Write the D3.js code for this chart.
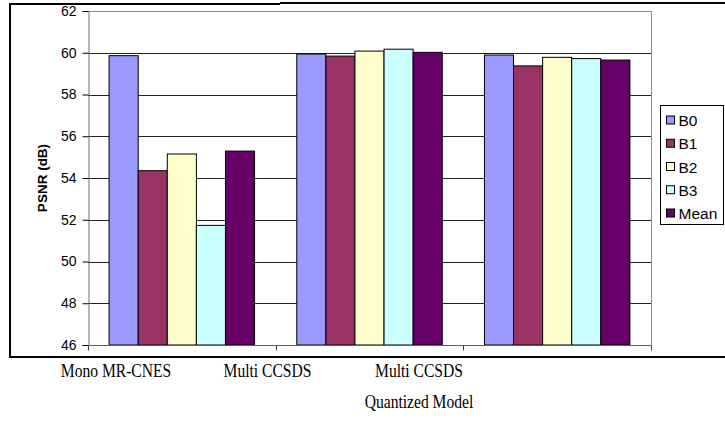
<!DOCTYPE html>
<html>
<head>
<meta charset="utf-8">
<script src="https://cdn.jsdelivr.net/npm/d3@7"></script>
<style>
  html, body { margin: 0; padding: 0; background: #fff; }
  svg { display: block; }
</style>
</head>
<body>
<svg id="chart" width="725" height="423"></svg>
<script>
// Compression methods (groups) and bands (series)
const categories = ["Mono MR-CNES", "Multi CCSDS", "Multi CCSDS Quantized Model"];
const captionLines = [["Mono MR-CNES"], ["Multi CCSDS"], ["Multi CCSDS", "Quantized Model"]];
const seriesNames = ["B0", "B1", "B2", "B3", "Mean"];
const seriesColors = ["#9999FF", "#993366", "#FFFFCC", "#CCFFFF", "#660066"];

// PSNR (dB) per band, one array per series, ordered like categories
const B0 = [59.86, 59.94, 59.89];
const B1 = [54.35, 59.84, 59.37];
const B2 = [55.15, 60.08, 59.78];
const B3 = [51.73, 60.17, 59.72];
const Mean = [55.29, 60.02, 59.65];
const seriesValues = [B0, B1, B2, B3, Mean];

const yTicks = [46, 48, 50, 52, 54, 56, 58, 60, 62];

const svg = d3.select("#chart");

// Plot area
const plot = { left: 88, right: 651, top: 11, bottom: 345 };

const x0 = d3.scaleBand()
  .domain(categories)
  .range([plot.left, plot.right])
  .paddingInner(0)
  .paddingOuter(0);

// Inner bands: 5 touching bars with a gap on either side of the group
const gapRatio = 1.45;
const x1 = d3.scaleBand()
  .domain(seriesNames)
  .range([0, x0.bandwidth()])
  .paddingInner(0)
  .paddingOuter(gapRatio / 2);

const y = d3.scaleLinear().domain([46, 62]).range([plot.bottom, plot.top]);

// Outer frame
svg.append("path")
  .attr("d", "M10,4 H280 M280,3 H725 M10,3 V357 H725")
  .attr("fill", "none")
  .attr("stroke", "#000")
  .attr("stroke-width", 2);

// Gridlines
svg.append("g")
  .selectAll("line")
  .data(yTicks.filter(t => t !== 46 && t !== 62))
  .join("line")
  .attr("x1", plot.left)
  .attr("x2", plot.right)
  .attr("y1", d => Math.round(y(d)) + 0.5)
  .attr("y2", d => Math.round(y(d)) + 0.5)
  .attr("stroke", "#222")
  .attr("stroke-width", 1);

// Plot border (top and right)
svg.append("path")
  .attr("d", `M${plot.left},${plot.top + 0.5} H${plot.right + 0.5} V${plot.bottom}`)
  .attr("fill", "none")
  .attr("stroke", "#8c8c8c")
  .attr("stroke-width", 1);

// Bars
const groups = svg.append("g")
  .selectAll("g")
  .data(categories)
  .join("g")
  .attr("transform", d => `translate(${x0(d)},0)`);

groups.selectAll("rect")
  .data((c, ci) => seriesNames.map((s, si) => ({ s, si, v: seriesValues[si][ci] })))
  .join("rect")
  .attr("x", d => x1(d.s))
  .attr("width", x1.bandwidth())
  .attr("y", d => y(d.v))
  .attr("height", d => y(46) - y(d.v))
  .attr("fill", d => seriesColors[d.si])
  .attr("stroke", "#000")
  .attr("stroke-width", 1);

// Y axis
const yAxis = d3.axisLeft(y).tickValues(yTicks).tickSize(6).tickPadding(6);
const yg = svg.append("g")
  .attr("transform", `translate(${plot.left + 0.5},0)`)
  .call(yAxis);
yg.select(".domain").attr("stroke", "#707070");
yg.selectAll(".tick line").attr("stroke", "#000");
yg.selectAll(".tick text")
  .attr("font-family", "Liberation Sans, Arial, sans-serif")
  .attr("font-size", 14)
  .attr("fill", "#000");

// X axis (group boundary ticks, no labels)
const xg = svg.append("g")
  .attr("transform", `translate(0,${plot.bottom + 0.5})`);
xg.append("line")
  .attr("x1", plot.left).attr("x2", plot.right + 0.5)
  .attr("stroke", "#606060");
xg.selectAll("line.tk")
  .data(categories.map(c => x0(c)).concat([plot.right]))
  .join("line")
  .attr("class", "tk")
  .attr("x1", d => Math.round(d) + 0.5)
  .attr("x2", d => Math.round(d) + 0.5)
  .attr("y1", 0).attr("y2", 5)
  .attr("stroke", "#404040");

// Y axis title
svg.append("text")
  .attr("transform", `translate(47,${(plot.top + plot.bottom) / 2}) rotate(-90)`)
  .attr("text-anchor", "middle")
  .attr("font-family", "Liberation Sans, Arial, sans-serif")
  .attr("font-weight", "bold")
  .attr("font-size", 13.5)
  .text("PSNR (dB)");

// Legend
const legend = svg.append("g").attr("transform", "translate(660.5,105.5)");
legend.append("rect")
  .attr("width", 63).attr("height", 119)
  .attr("fill", "#fff").attr("stroke", "#000").attr("stroke-width", 1);
const ly = d3.scalePoint().domain(seriesNames).range([15, 108]);
const li = legend.selectAll("g.item")
  .data(seriesNames)
  .join("g")
  .attr("class", "item")
  .attr("transform", d => `translate(0,${ly(d)})`);
li.append("rect")
  .attr("x", 6).attr("y", -4.5)
  .attr("width", 8).attr("height", 8)
  .attr("fill", (d, i) => seriesColors[i])
  .attr("stroke", "#000").attr("stroke-width", 1);
li.append("text")
  .attr("x", 18).attr("y", 5.5)
  .attr("font-family", "Liberation Sans, Arial, sans-serif")
  .attr("font-size", 15.5)
  .text(d => d);

// Method captions below the frame
const cx = d3.scalePoint().domain(categories).range([116, 419]);
const caps = svg.append("g")
  .selectAll("g")
  .data(categories)
  .join("g")
  .attr("transform", d => `translate(${cx(d)},377) scale(0.8,1)`);
caps.selectAll("text")
  .data((d, i) => captionLines[i])
  .join("text")
  .attr("y", (d, i) => i * 31)
  .attr("text-anchor", "middle")
  .attr("font-family", "Liberation Serif, Times New Roman, serif")
  .attr("font-size", 19.5)
  .text(d => d);
</script>
</body>
</html>
